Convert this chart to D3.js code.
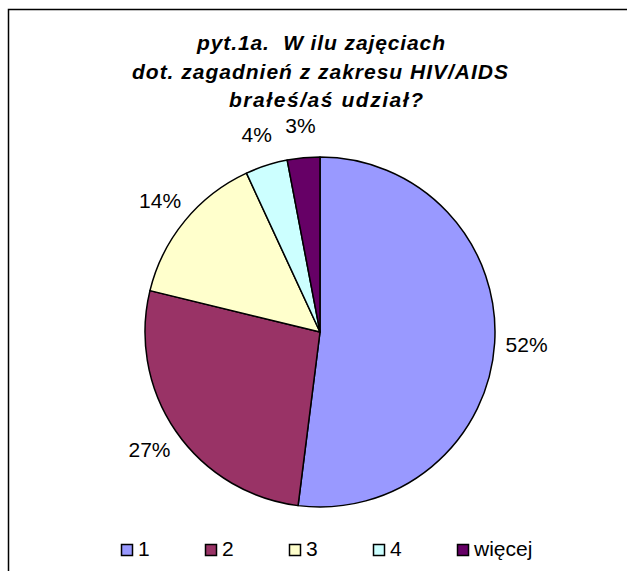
<!DOCTYPE html>
<html lang="pl">
<head>
    <meta charset="UTF-8">
    <title>pyt.1a</title>
    <style>
        body { margin: 0; background: #fff; }
        svg { display: block; }
        text { font-family: "Liberation Sans", Arial, sans-serif; fill: #000; white-space: pre; }
    </style>
</head>
<body>
    <svg id="chart"></svg>
    <script src="https://cdnjs.cloudflare.com/ajax/libs/d3/7.9.0/d3.min.js"></script>
    <script>
        // data
        const categories = ["1", "2", "3", "4", "więcej"];
        const values = [52.0, 26.8, 14.3, 3.9, 3.0];
        const colors = ["#9999FF", "#993366", "#FFFFCC", "#CCFFFF", "#660066"];
        const titleLines = ["pyt.1a.  W ilu zajęciach", "dot. zagadnień z zakresu HIV/AIDS", "brałeś/aś udział?"];
        const titleStarts = [197, 132, 229];
        const titleWidths = [248, 376, 194];

        const w = 627, h = 571;
        const cx = 320, cy = 332, r = 175;

        const svg = d3.select("#chart").attr("width", w).attr("height", h);

        // frame
        svg.append("rect")
            .attr("x", 8.5).attr("y", 9.5)
            .attr("width", 700).attr("height", 700)
            .attr("fill", "none").attr("stroke", "#000").attr("stroke-width", 1.5);

        // title
        svg.append("g").selectAll("text")
            .data(titleLines)
            .enter()
            .append("text")
            .attr("x", (d, i) => titleStarts[i])
            .attr("y", (d, i) => 50 + i * 28.5)
            .attr("font-size", 21)
            .attr("font-weight", "bold")
            .attr("font-style", "italic")
            .attr("textLength", (d, i) => titleWidths[i])
            .attr("lengthAdjust", "spacing")
            .text(d => d);

        const data = categories.map((c, i) => ({ cat: c, value: values[i], color: colors[i] }));

        const pie = d3.pie().sort(null).value(d => d.value);
        const arcs = pie(data);
        const arc = d3.arc().innerRadius(0).outerRadius(r);
        const labelArc = d3.arc().innerRadius(207).outerRadius(207);

        const g = svg.append("g").attr("transform", "translate(" + cx + "," + cy + ")");

        g.selectAll("path")
            .data(arcs)
            .enter()
            .append("path")
            .attr("d", arc)
            .attr("fill", d => d.data.color)
            .attr("stroke", "#000")
            .attr("stroke-width", 1.5)
            .attr("stroke-linejoin", "round");

        g.selectAll(".lbl")
            .data(arcs)
            .enter()
            .append("text")
            .attr("class", "lbl")
            .attr("transform", d => "translate(" + labelArc.centroid(d) + ")")
            .attr("text-anchor", "middle")
            .attr("dominant-baseline", "central")
            .attr("font-size", 21)
            .text(d => Math.round(d.data.value) + "%");

        // legend
        const legend = svg.append("g").attr("transform", "translate(121,544)");
        const item = legend.selectAll("g")
            .data(data)
            .enter()
            .append("g")
            .attr("transform", (d, i) => "translate(" + i * 84 + ",0)");

        item.append("rect")
            .attr("x", 0.5).attr("y", 0.5)
            .attr("width", 11).attr("height", 11)
            .attr("fill", d => d.color)
            .attr("stroke", "#000")
            .attr("stroke-width", 1.5);

        item.append("text")
            .attr("x", 17)
            .attr("y", 12)
            .attr("font-size", 21)
            .text(d => d.cat);
    </script>
</body>
</html>
